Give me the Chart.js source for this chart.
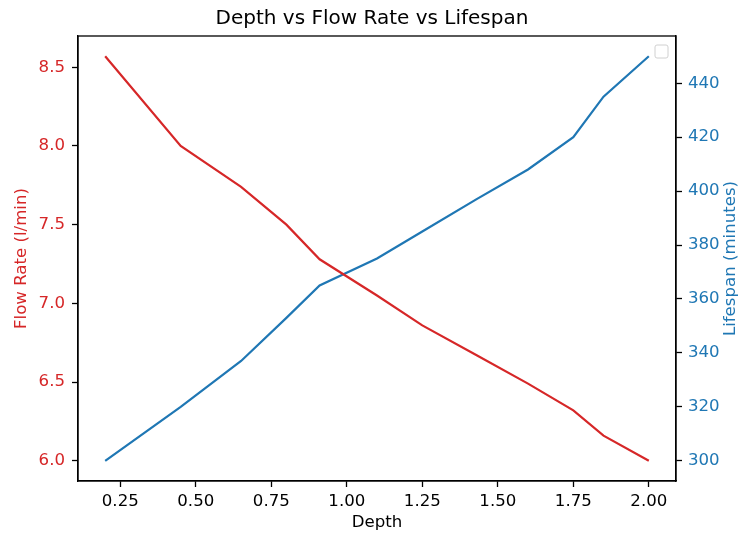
<!DOCTYPE html>
<html>
<head>
<meta charset="utf-8">
<script src="https://cdn.jsdelivr.net/npm/chart.js@4/dist/chart.umd.min.js"></script>
<style>
  body { margin: 0; background: #fff; }
  canvas { display: block; }
</style>
</head>
<body>
<canvas id="chart" width="744" height="536"></canvas>
<script>
// data
const depth = [0.2, 0.45, 0.65, 0.8, 0.91, 1.1, 1.25, 1.43, 1.6, 1.75, 1.85, 2.0];
const flowRate = [8.57, 8.0, 7.74, 7.5, 7.28, 7.05, 6.86, 6.67, 6.49, 6.32, 6.16, 6.0];
const lifespan = [300, 320, 337, 353, 365, 375, 385, 397, 408, 420, 435, 450];

const xTicks = [0.25, 0.5, 0.75, 1.0, 1.25, 1.5, 1.75, 2.0];
const flowTicks = [6.0, 6.5, 7.0, 7.5, 8.0, 8.5];
const lifeTicks = [300, 320, 340, 360, 380, 400, 420, 440];

const RED = "#d62728";
const BLUE = "#1f77b4";
const FONT = "'DejaVu Sans', sans-serif";
const FS = 16.6;

// matplotlib style 5% margins
function pad(arr) {
  const lo = Math.min(...arr), hi = Math.max(...arr);
  const m = (hi - lo) * 0.05;
  return { min: lo - m, max: hi + m };
}
const xRange = pad(depth);
const flowRange = pad(flowRate);
const lifeRange = pad(lifespan);

const points = (ys) => depth.map((d, i) => ({ x: d, y: ys[i] }));
const fixTicks = (vals) => (scale) => {
  scale.ticks = vals.map((v) => ({ value: v }));
};
const gridOpts = {
  drawOnChartArea: false,
  tickLength: 6,
  tickColor: "#000",
  tickWidth: 1.3,
};

// frame, empty legend box, right axis title
const extras = {
  id: "extras",
  afterDraw(chart) {
    const { ctx, chartArea: a } = chart;
    ctx.save();
    ctx.strokeStyle = "#000";
    ctx.lineWidth = 1.3;
    ctx.strokeRect(a.left, a.top, a.right - a.left, a.bottom - a.top);

    // empty legend
    const bx = a.right - 21, by = a.top + 9, bs = 13;
    ctx.beginPath();
    ctx.roundRect(bx, by, bs, bs, 2);
    ctx.fillStyle = "rgba(255,255,255,0.8)";
    ctx.fill();
    ctx.strokeStyle = "#d0d0d0";
    ctx.lineWidth = 1;
    ctx.stroke();

    // right title, reads bottom to top
    ctx.translate(731, (a.top + a.bottom) / 2);
    ctx.rotate(-Math.PI / 2);
    ctx.fillStyle = BLUE;
    ctx.font = FS + "px " + FONT;
    ctx.textAlign = "center";
    ctx.textBaseline = "middle";
    ctx.fillText("Lifespan (minutes)", 0, 0);
    ctx.restore();
  },
};

new Chart(document.getElementById("chart"), {
  type: "line",
  data: {
    datasets: [
      {
        label: "Flow Rate (l/min)",
        data: points(flowRate),
        borderColor: RED,
        borderWidth: 2.2,
        pointRadius: 0,
        tension: 0,
        yAxisID: "yFlow",
      },
      {
        label: "Lifespan (minutes)",
        data: points(lifespan),
        borderColor: BLUE,
        borderWidth: 2.2,
        pointRadius: 0,
        tension: 0,
        yAxisID: "yLife",
      },
    ],
  },
  options: {
    responsive: false,
    animation: false,
    layout: { padding: 0 },
    plugins: {
      legend: { display: false },
      tooltip: { enabled: false },
      title: {
        display: true,
        text: "Depth vs Flow Rate vs Lifespan",
        color: "#000",
        font: { family: FONT, size: 20, weight: "normal" },
        padding: { top: 7, bottom: 5 },
      },
    },
    scales: {
      x: {
        type: "linear",
        min: xRange.min,
        max: xRange.max,
        afterBuildTicks: fixTicks(xTicks),
        afterFit: (s) => { s.height = 55; },
        grid: gridOpts,
        border: { color: "#000", width: 1.3 },
        ticks: {
          color: "#000",
          padding: 5,
          maxRotation: 0,
          font: { family: FONT, size: FS },
          callback: (v) => v.toFixed(2),
        },
        title: {
          display: true,
          text: "Depth",
          color: "#000",
          font: { family: FONT, size: FS },
          padding: { top: 0, bottom: 3 },
        },
      },
      yFlow: {
        type: "linear",
        position: "left",
        min: flowRange.min,
        max: flowRange.max,
        afterBuildTicks: fixTicks(flowTicks),
        afterFit: (s) => { s.width = 78; },
        grid: gridOpts,
        border: { color: "#000", width: 1.3 },
        ticks: {
          color: RED,
          padding: 7,
          font: { family: FONT, size: FS },
          callback: (v) => v.toFixed(1),
        },
        title: {
          display: true,
          text: "Flow Rate (l/min)",
          color: RED,
          font: { family: FONT, size: FS },
          padding: { top: 11.5, bottom: 0 },
        },
      },
      yLife: {
        type: "linear",
        position: "right",
        min: lifeRange.min,
        max: lifeRange.max,
        afterBuildTicks: fixTicks(lifeTicks),
        afterFit: (s) => { s.width = 68; },
        grid: gridOpts,
        border: { color: "#000", width: 1.3 },
        ticks: {
          color: BLUE,
          padding: 6,
          font: { family: FONT, size: FS },
        },
      },
    },
  },
  plugins: [extras],
});
</script>
</body>
</html>
